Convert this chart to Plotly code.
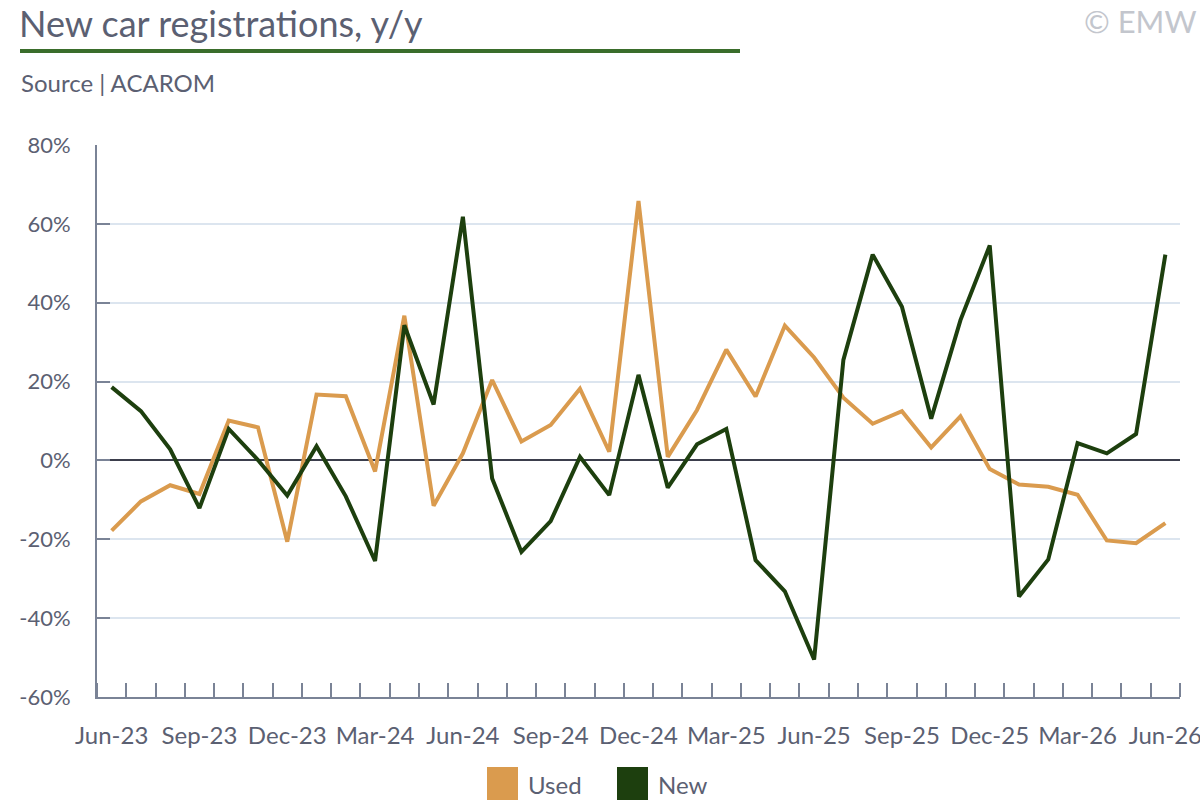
import plotly.graph_objects as go

months = ["Jun-23", "Jul-23", "Aug-23", "Sep-23", "Oct-23", "Nov-23", "Dec-23",
          "Jan-24", "Feb-24", "Mar-24", "Apr-24", "May-24", "Jun-24", "Jul-24",
          "Aug-24", "Sep-24", "Oct-24", "Nov-24", "Dec-24", "Jan-25", "Feb-25",
          "Mar-25", "Apr-25", "May-25", "Jun-25", "Jul-25", "Aug-25", "Sep-25",
          "Oct-25", "Nov-25", "Dec-25", "Jan-26", "Feb-26", "Mar-26", "Apr-26",
          "May-26", "Jun-26"]

used = [-17.8, -10.4, -6.3, -8.5, 10.1, 8.4, -20.6, 16.7, 16.3, -2.8, 36.7,
        -11.5, 1.8, 20.4, 4.8, 9.0, 18.2, 2.2, 65.8, 0.9, 12.8, 28.1, 16.2,
        34.2, 26.1, 15.9, 9.3, 12.5, 3.3, 11.2, -2.2, -6.1, -6.7, -8.7, -20.3,
        -21.0, -15.9]

new = [18.6, 12.5, 2.8, -12.1, 8.0, 0.1, -8.9, 3.6, -9.1, -25.5, 34.3, 14.2,
       61.8, -4.6, -23.2, -15.4, 0.9, -8.8, 21.7, -6.9, 4.1, 8.0, -25.3, -33.2,
       -50.5, 25.5, 52.2, 39.0, 10.6, 35.6, 54.5, -34.5, -25.1, 4.4, 1.8, 6.7,
       52.2]

y_ticks = [-60, -40, -20, 0, 20, 40, 60, 80]
y_labels = ["-60%", "-40%", "-20%", "0%", "20%", "40%", "60%", "80%"]

series_names = ["Used", "New"]
series_colors = ["#da9b4e", "#1d3f0e"]

TEXT = "#5b6072"
AXIS = "#7a8396"

# plot area in pixels (1200x800 page)
L, R, T, B = 97, 20, 145, 103
W, H = 1200 - L - R, 800 - T - B


def px(x):
    return (x - L) / W


def py(y):
    return (800 - B - y) / H


idx = list(range(len(months)))
fig = go.Figure()
for name, vals, col in zip(series_names, [used, new], series_colors):
    fig.add_trace(go.Scatter(x=idx, y=vals, name=name, mode="lines",
                             line=dict(color=col, width=4),
                             showlegend=False))

fig.update_layout(
    width=1200, height=800, autosize=False,
    margin=dict(l=L, r=R, t=T, b=B),
    paper_bgcolor="white", plot_bgcolor="white",
    font=dict(family="Lato", color=TEXT),
    title=dict(text="New car registrations, y/y", xref="container",
               x=19 / 1200, xanchor="left", yref="container",
               y=1 - 24 / 800, yanchor="middle",
               font=dict(size=36, color=TEXT)),
    xaxis=dict(
        range=[-0.5, len(months) - 0.5],
        tickvals=idx[::3], ticktext=months[::3],
        ticks="", showgrid=False, zeroline=False,
        showline=True, linecolor=AXIS, linewidth=2,
        tickfont=dict(size=24, color=TEXT),
        ticklabelstandoff=16, ticklabeloverflow="allow",
        automargin=False,
        minor=dict(tick0=-0.5, dtick=1, ticks="inside", ticklen=14,
                   tickcolor=AXIS, tickwidth=2, showgrid=False),
    ),
    yaxis=dict(
        range=[-60, 80], tickvals=y_ticks, ticktext=y_labels,
        showgrid=True, gridcolor="#dce5ef", gridwidth=2,
        zeroline=True, zerolinecolor="#3b3e4c", zerolinewidth=2,
        showline=True, linecolor=AXIS, linewidth=2,
        ticks="inside", ticklen=13, tickcolor=AXIS, tickwidth=2,
        tickfont=dict(size=22, color=TEXT),
        ticklabelstandoff=20, automargin=False,
    ),
)

# title underline, source line and watermark
fig.add_shape(type="line", xref="paper", yref="paper",
              x0=px(20), x1=px(740), y0=py(51), y1=py(51),
              line=dict(color="#3a6d2b", width=4))
fig.add_annotation(text="Source | ACAROM", xref="paper", yref="paper",
                   x=px(19), y=py(82), xanchor="left", yanchor="middle",
                   showarrow=False, font=dict(size=24, color=TEXT))
fig.add_annotation(text="© EMW", xref="paper", yref="paper",
                   x=px(1199), y=py(21), xanchor="right", yanchor="middle",
                   showarrow=False, font=dict(size=31, color="#c3c6cd"))

# legend swatches
legend_x = [487, 617]
for name, col, lx in zip(series_names, series_colors, legend_x):
    fig.add_shape(type="rect", xref="paper", yref="paper",
                  x0=px(lx), x1=px(lx + 31), y0=py(767), y1=py(800),
                  fillcolor=col, line=dict(width=0))
    fig.add_annotation(text=name, xref="paper", yref="paper",
                       x=px(lx + 39), y=py(784), xanchor="left",
                       yanchor="middle", showarrow=False,
                       font=dict(size=24, color=TEXT))

page_fix = ("document.body.style.margin='0';"
            "document.body.style.overflow='hidden';"
            "document.documentElement.style.overflow='hidden';")
fig.write_html("out.html",
               config={"displayModeBar": False, "responsive": False},
               post_script=page_fix)
